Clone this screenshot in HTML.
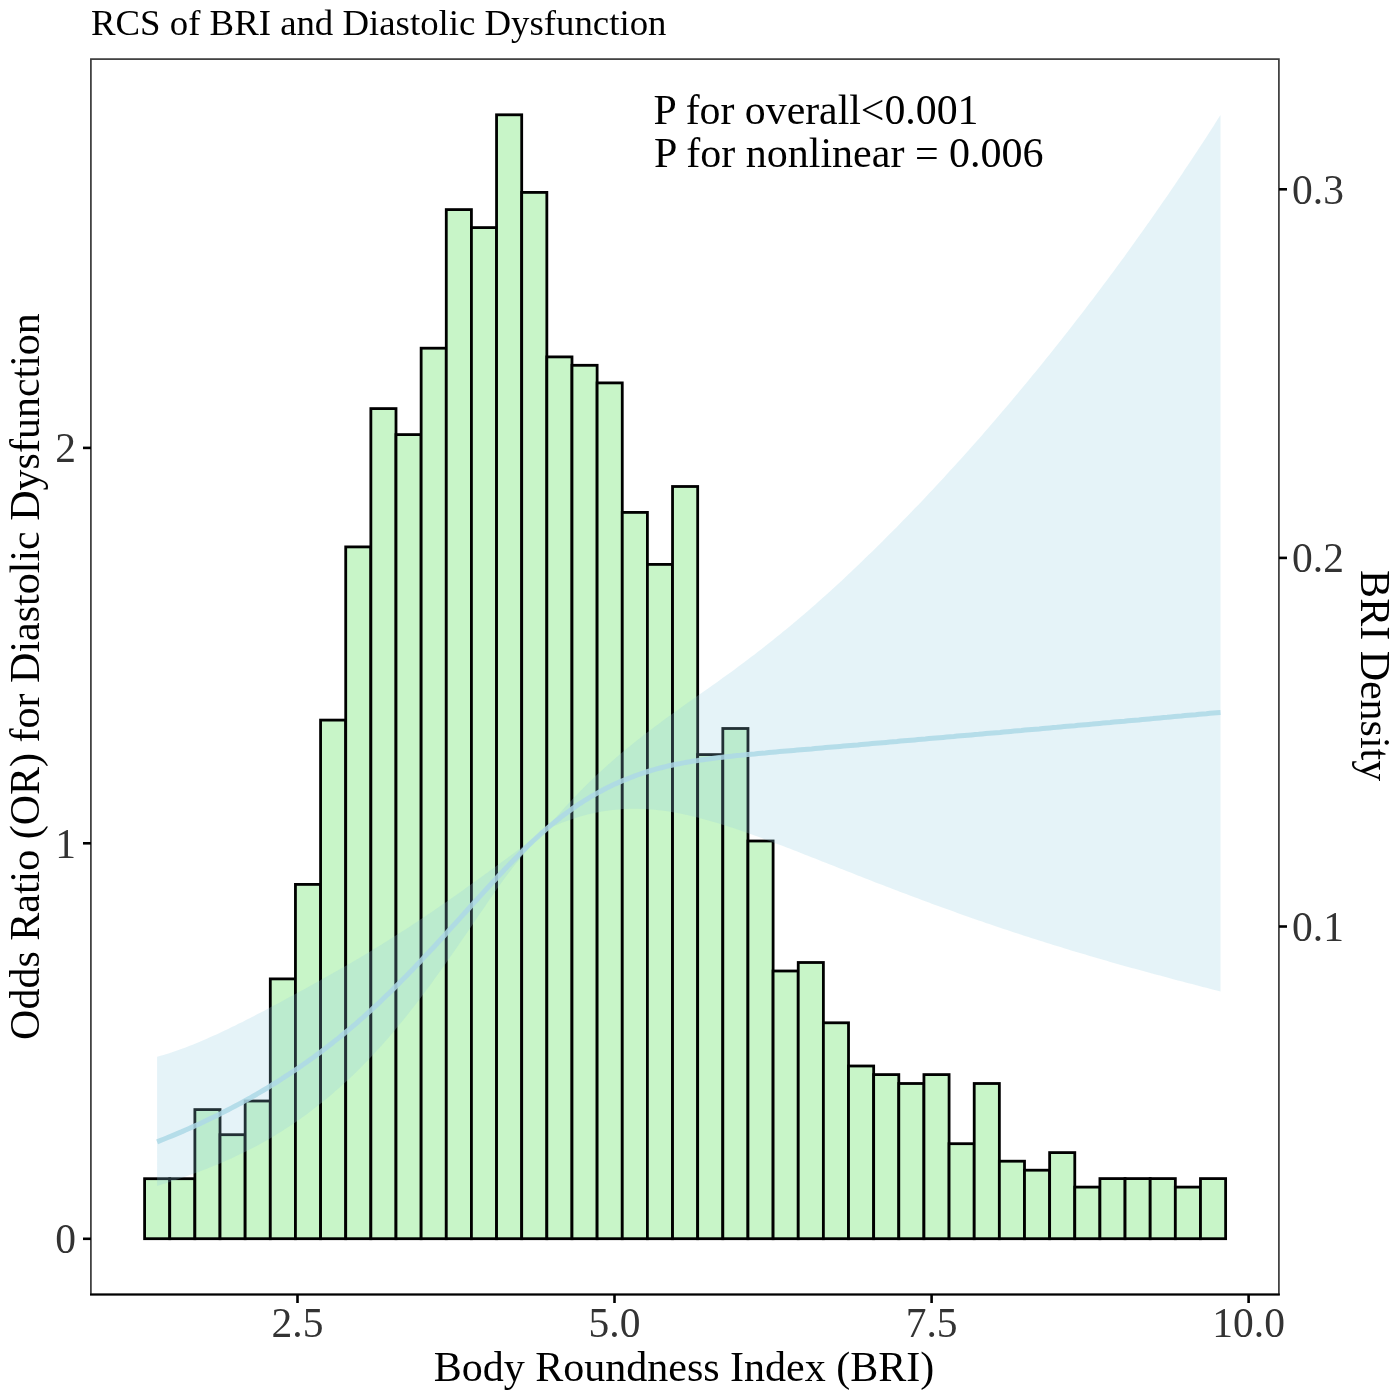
<!DOCTYPE html>
<html><head><meta charset="utf-8"><style>
html,body{margin:0;padding:0;background:#fff;}
svg{display:block;will-change:transform}
text{font-family:"Liberation Serif", serif;}
</style></head><body>
<svg width="1400" height="1400" viewBox="0 0 1400 1400">
<rect width="1400" height="1400" fill="#fff"/>
<text x="91" y="35.4" font-size="36.8" fill="#000">RCS of BRI and Diastolic Dysfunction</text>
<g fill="#c8f5c8" stroke="#000" stroke-width="2.8">
<rect x="144.60" y="1178.70" width="25.14" height="60.00"/><rect x="169.74" y="1178.70" width="25.14" height="60.00"/><rect x="194.88" y="1109.60" width="25.14" height="129.10"/><rect x="220.02" y="1134.70" width="25.14" height="104.00"/><rect x="245.16" y="1101.00" width="25.14" height="137.70"/><rect x="270.30" y="978.90" width="25.14" height="259.80"/><rect x="295.44" y="884.40" width="25.14" height="354.30"/><rect x="320.58" y="720.10" width="25.14" height="518.60"/><rect x="345.72" y="546.90" width="25.14" height="691.80"/><rect x="370.86" y="408.60" width="25.14" height="830.10"/><rect x="396.00" y="434.60" width="25.14" height="804.10"/><rect x="421.14" y="348.20" width="25.14" height="890.50"/><rect x="446.28" y="209.60" width="25.14" height="1029.10"/><rect x="471.42" y="227.60" width="25.14" height="1011.10"/><rect x="496.56" y="114.80" width="25.14" height="1123.90"/><rect x="521.70" y="192.40" width="25.14" height="1046.30"/><rect x="546.84" y="356.90" width="25.14" height="881.80"/><rect x="571.98" y="365.30" width="25.14" height="873.40"/><rect x="597.12" y="382.90" width="25.14" height="855.80"/><rect x="622.26" y="512.40" width="25.14" height="726.30"/><rect x="647.40" y="564.40" width="25.14" height="674.30"/><rect x="672.54" y="486.50" width="25.14" height="752.20"/><rect x="697.68" y="754.60" width="25.14" height="484.10"/><rect x="722.82" y="728.50" width="25.14" height="510.20"/><rect x="747.96" y="841.00" width="25.14" height="397.70"/><rect x="773.10" y="971.00" width="25.14" height="267.70"/><rect x="798.24" y="962.50" width="25.14" height="276.20"/><rect x="823.38" y="1022.80" width="25.14" height="215.90"/><rect x="848.52" y="1066.00" width="25.14" height="172.70"/><rect x="873.66" y="1074.60" width="25.14" height="164.10"/><rect x="898.80" y="1083.50" width="25.14" height="155.20"/><rect x="923.94" y="1074.60" width="25.14" height="164.10"/><rect x="949.08" y="1143.70" width="25.14" height="95.00"/><rect x="974.22" y="1083.50" width="25.14" height="155.20"/><rect x="999.36" y="1161.20" width="25.14" height="77.50"/><rect x="1024.50" y="1170.20" width="25.14" height="68.50"/><rect x="1049.64" y="1152.60" width="25.14" height="86.10"/><rect x="1074.78" y="1187.10" width="25.14" height="51.60"/><rect x="1099.92" y="1178.60" width="25.14" height="60.10"/><rect x="1125.06" y="1178.60" width="25.14" height="60.10"/><rect x="1150.20" y="1178.60" width="25.14" height="60.10"/><rect x="1175.34" y="1187.10" width="25.14" height="51.60"/><rect x="1200.48" y="1178.60" width="25.14" height="60.10"/>
</g>
<polygon points="157.1,1056.8 160.7,1055.8 164.2,1054.8 167.8,1053.7 171.3,1052.5 174.9,1051.3 178.4,1050.1 182.0,1048.8 185.6,1047.5 189.1,1046.1 192.7,1044.7 196.2,1043.3 199.8,1041.8 203.3,1040.3 206.9,1038.7 210.4,1037.1 214.0,1035.5 217.6,1033.9 221.1,1032.2 224.7,1030.6 228.2,1028.9 231.8,1027.1 235.3,1025.4 238.9,1023.6 242.5,1021.9 246.0,1020.1 249.6,1018.2 253.1,1016.4 256.7,1014.6 260.2,1012.7 263.8,1010.9 267.4,1009.0 270.9,1007.1 274.5,1005.3 278.0,1003.4 281.6,1001.5 285.1,999.6 288.7,997.6 292.2,995.7 295.8,993.8 299.4,991.8 302.9,989.9 306.5,987.9 310.0,986.0 313.6,984.0 317.1,982.0 320.7,980.1 324.3,978.1 327.8,976.1 331.4,974.1 334.9,972.1 338.5,970.0 342.0,968.0 345.6,966.0 349.2,963.9 352.7,961.8 356.3,959.8 359.8,957.7 363.4,955.5 366.9,953.4 370.5,951.3 374.0,949.1 377.6,946.9 381.2,944.7 384.7,942.5 388.3,940.3 391.8,938.1 395.4,935.8 398.9,933.6 402.5,931.3 406.1,929.0 409.6,926.7 413.2,924.3 416.7,922.0 420.3,919.6 423.8,917.2 427.4,914.8 431.0,912.4 434.5,910.0 438.1,907.6 441.6,905.1 445.2,902.7 448.7,900.2 452.3,897.7 455.8,895.2 459.4,892.7 463.0,890.2 466.5,887.6 470.1,885.1 473.6,882.5 477.2,879.9 480.7,877.4 484.3,874.8 487.9,872.2 491.4,869.6 495.0,867.0 498.5,864.4 502.1,861.8 505.6,859.2 509.2,856.5 512.8,853.9 516.3,851.3 519.9,848.7 523.4,845.9 527.0,843.2 530.5,840.5 534.1,837.8 537.6,835.3 541.2,832.8 544.8,830.4 545.0,830.2 548.3,826.2 551.9,822.0 555.4,817.9 559.0,813.9 562.5,809.9 566.1,806.0 569.7,802.2 573.2,798.5 576.8,794.8 580.3,791.1 583.9,787.5 587.4,784.0 591.0,780.5 594.6,777.1 598.1,773.8 601.7,770.5 605.2,767.3 608.8,764.1 612.3,760.9 615.9,757.8 619.4,754.8 623.0,751.8 626.6,748.8 630.1,745.9 633.7,743.0 637.2,740.2 640.8,737.4 644.3,734.6 647.9,731.9 651.5,729.2 655.0,726.5 658.6,723.9 662.1,721.2 665.7,718.6 669.2,716.0 672.8,713.5 676.4,710.9 679.9,708.4 683.5,705.8 687.0,703.3 690.6,700.8 694.1,698.3 697.7,695.8 701.2,693.3 704.8,690.8 708.4,688.3 711.9,685.7 715.5,683.2 719.0,680.7 722.6,678.1 726.1,675.5 729.7,673.0 733.3,670.4 736.8,667.7 740.4,665.1 743.9,662.4 747.5,659.8 751.0,657.1 754.6,654.4 758.2,651.6 761.7,648.9 765.3,646.1 768.8,643.3 772.4,640.4 775.9,637.6 779.5,634.7 783.0,631.8 786.6,628.9 790.2,626.0 793.7,623.0 797.3,620.0 800.8,617.0 804.4,613.9 807.9,610.9 811.5,607.8 815.1,604.7 818.6,601.5 822.2,598.3 825.7,595.2 829.3,591.9 832.8,588.7 836.4,585.4 840.0,582.2 843.5,578.9 847.1,575.5 850.6,572.2 854.2,568.8 857.7,565.4 861.3,562.0 864.8,558.6 868.4,555.1 872.0,551.7 875.5,548.2 879.1,544.7 882.6,541.2 886.2,537.6 889.7,534.1 893.3,530.5 896.9,526.9 900.4,523.3 904.0,519.6 907.5,516.0 911.1,512.3 914.6,508.6 918.2,504.9 921.8,501.2 925.3,497.4 928.9,493.6 932.4,489.9 936.0,486.0 939.5,482.2 943.1,478.4 946.6,474.5 950.2,470.6 953.8,466.7 957.3,462.8 960.9,458.9 964.4,454.9 968.0,450.9 971.5,446.9 975.1,442.9 978.7,438.9 982.2,434.9 985.8,430.8 989.3,426.7 992.9,422.6 996.4,418.5 1000.0,414.3 1003.6,410.1 1007.1,406.0 1010.7,401.8 1014.2,397.5 1017.8,393.3 1021.3,389.0 1024.9,384.7 1028.4,380.4 1032.0,376.1 1035.6,371.8 1039.1,367.4 1042.7,363.0 1046.2,358.6 1049.8,354.2 1053.3,349.7 1056.9,345.3 1060.5,340.8 1064.0,336.3 1067.6,331.8 1071.1,327.2 1074.7,322.6 1078.2,318.1 1081.8,313.4 1085.4,308.8 1088.9,304.1 1092.5,299.5 1096.0,294.8 1099.6,290.0 1103.1,285.3 1106.7,280.5 1110.2,275.7 1113.8,270.9 1117.4,266.1 1120.9,261.2 1124.5,256.4 1128.0,251.5 1131.6,246.5 1135.1,241.6 1138.7,236.6 1142.3,231.6 1145.8,226.6 1149.4,221.5 1152.9,216.4 1156.5,211.3 1160.0,206.2 1163.6,201.1 1167.2,195.9 1170.7,190.7 1174.3,185.5 1177.8,180.2 1181.4,174.9 1184.9,169.6 1188.5,164.3 1192.0,158.9 1195.6,153.5 1199.2,148.1 1202.7,142.7 1206.3,137.2 1209.8,131.7 1213.4,126.2 1216.9,120.6 1220.5,115.1 1220.5,991.6 1216.9,990.6 1213.4,989.7 1209.8,988.8 1206.3,987.8 1202.7,986.9 1199.2,986.0 1195.6,985.0 1192.0,984.1 1188.5,983.2 1184.9,982.2 1181.4,981.3 1177.8,980.4 1174.3,979.4 1170.7,978.5 1167.2,977.5 1163.6,976.6 1160.0,975.6 1156.5,974.7 1152.9,973.7 1149.4,972.7 1145.8,971.8 1142.3,970.8 1138.7,969.8 1135.1,968.8 1131.6,967.9 1128.0,966.9 1124.5,965.9 1120.9,964.9 1117.4,963.9 1113.8,962.9 1110.2,961.9 1106.7,960.8 1103.1,959.8 1099.6,958.8 1096.0,957.8 1092.5,956.7 1088.9,955.7 1085.4,954.6 1081.8,953.6 1078.2,952.5 1074.7,951.5 1071.1,950.4 1067.6,949.3 1064.0,948.2 1060.5,947.1 1056.9,946.0 1053.3,944.9 1049.8,943.8 1046.2,942.7 1042.7,941.6 1039.1,940.5 1035.6,939.3 1032.0,938.2 1028.4,937.1 1024.9,935.9 1021.3,934.8 1017.8,933.6 1014.2,932.4 1010.7,931.3 1007.1,930.1 1003.6,928.9 1000.0,927.7 996.4,926.5 992.9,925.3 989.3,924.1 985.8,922.9 982.2,921.6 978.7,920.4 975.1,919.2 971.5,917.9 968.0,916.7 964.4,915.4 960.9,914.2 957.3,912.9 953.8,911.6 950.2,910.3 946.6,909.1 943.1,907.8 939.5,906.5 936.0,905.2 932.4,903.9 928.9,902.6 925.3,901.2 921.8,899.9 918.2,898.6 914.6,897.3 911.1,895.9 907.5,894.6 904.0,893.3 900.4,891.9 896.9,890.6 893.3,889.2 889.7,887.8 886.2,886.5 882.6,885.1 879.1,883.7 875.5,882.4 872.0,881.0 868.4,879.6 864.8,878.2 861.3,876.8 857.7,875.4 854.2,874.0 850.6,872.6 847.1,871.2 843.5,869.8 840.0,868.4 836.4,867.0 832.8,865.6 829.3,864.2 825.7,862.8 822.2,861.4 818.6,860.0 815.1,858.6 811.5,857.2 807.9,855.8 804.4,854.4 800.8,853.0 797.3,851.6 793.7,850.2 790.2,848.8 786.6,847.5 783.0,846.1 779.5,844.7 775.9,843.4 772.4,842.0 768.8,840.7 765.3,839.4 761.7,838.1 758.2,836.8 754.6,835.5 751.0,834.2 747.5,833.0 743.9,831.7 740.4,830.5 736.8,829.3 733.3,828.1 729.7,827.0 726.1,825.8 722.6,824.7 719.0,823.6 715.5,822.5 711.9,821.5 708.4,820.4 704.8,819.5 701.2,818.5 697.7,817.6 694.1,816.7 690.6,815.8 687.0,815.0 683.5,814.2 679.9,813.5 676.4,812.8 672.8,812.2 669.2,811.6 665.7,811.1 662.1,810.6 658.6,810.2 655.0,809.8 651.5,809.5 647.9,809.2 644.3,809.0 640.8,808.9 637.2,808.8 633.7,808.8 630.1,808.8 626.6,808.9 623.0,809.1 619.4,809.4 615.9,809.7 612.3,810.0 608.8,810.5 605.2,811.0 601.7,811.6 598.1,812.2 594.6,813.0 591.0,813.7 587.4,814.6 583.9,815.5 580.3,816.5 576.8,817.6 573.2,818.8 569.7,820.0 566.1,821.2 562.5,822.5 559.0,823.9 555.4,825.4 551.9,827.0 548.3,828.6 545.0,830.2 544.8,830.5 541.2,834.3 537.6,838.2 534.1,842.2 530.5,846.3 527.0,850.4 523.4,854.6 519.9,858.9 516.3,863.2 512.8,867.6 509.2,872.2 505.6,876.9 502.1,881.7 498.5,886.7 495.0,891.7 491.4,896.9 487.9,902.1 484.3,907.4 480.7,912.6 477.2,917.8 473.6,923.0 470.1,928.2 466.5,933.4 463.0,938.6 459.4,943.7 455.8,948.9 452.3,954.0 448.7,959.1 445.2,964.2 441.6,969.2 438.1,974.1 434.5,979.1 431.0,984.0 427.4,988.8 423.8,993.6 420.3,998.3 416.7,1002.9 413.2,1007.5 409.6,1012.1 406.1,1016.5 402.5,1020.9 398.9,1025.3 395.4,1029.5 391.8,1033.7 388.3,1037.9 384.7,1041.9 381.2,1045.9 377.6,1049.8 374.0,1053.7 370.5,1057.5 366.9,1061.2 363.4,1064.8 359.8,1068.4 356.3,1071.9 352.7,1075.4 349.2,1078.8 345.6,1082.1 342.0,1085.3 338.5,1088.5 334.9,1091.6 331.4,1094.7 327.8,1097.7 324.3,1100.6 320.7,1103.5 317.1,1106.3 313.6,1109.1 310.0,1111.8 306.5,1114.4 302.9,1117.0 299.4,1119.5 295.8,1122.0 292.2,1124.4 288.7,1126.8 285.1,1129.1 281.6,1131.4 278.0,1133.6 274.5,1135.8 270.9,1137.9 267.4,1139.9 263.8,1142.0 260.2,1143.9 256.7,1145.9 253.1,1147.7 249.6,1149.6 246.0,1151.4 242.5,1153.1 238.9,1154.8 235.3,1156.5 231.8,1158.2 228.2,1159.8 224.7,1161.3 221.1,1162.9 217.6,1164.4 214.0,1165.8 210.4,1167.3 206.9,1168.7 203.3,1170.1 199.8,1171.4 196.2,1172.7 192.7,1174.0 189.1,1175.3 185.6,1176.6 182.0,1177.8 178.4,1179.0 174.9,1180.2 171.3,1181.4 167.8,1182.6 164.2,1183.7 160.7,1184.8 157.1,1186.0" fill="rgb(145,204,225)" fill-opacity="0.235"/>
<polyline points="157.1,1141.8 160.7,1140.4 164.2,1139.0 167.8,1137.5 171.3,1136.1 174.9,1134.6 178.4,1133.1 182.0,1131.6 185.6,1130.0 189.1,1128.5 192.7,1126.9 196.2,1125.3 199.8,1123.7 203.3,1122.0 206.9,1120.3 210.4,1118.6 214.0,1116.9 217.6,1115.2 221.1,1113.4 224.7,1111.6 228.2,1109.8 231.8,1107.9 235.3,1106.0 238.9,1104.1 242.5,1102.2 246.0,1100.2 249.6,1098.3 253.1,1096.2 256.7,1094.2 260.2,1092.1 263.8,1090.0 267.4,1087.9 270.9,1085.7 274.5,1083.5 278.0,1081.3 281.6,1079.0 285.1,1076.7 288.7,1074.4 292.2,1072.0 295.8,1069.7 299.4,1067.2 302.9,1064.8 306.5,1062.3 310.0,1059.7 313.6,1057.2 317.1,1054.6 320.7,1051.9 324.3,1049.2 327.8,1046.5 331.4,1043.7 334.9,1040.9 338.5,1038.1 342.0,1035.2 345.6,1032.3 349.2,1029.3 352.7,1026.3 356.3,1023.3 359.8,1020.2 363.4,1017.1 366.9,1013.9 370.5,1010.7 374.0,1007.4 377.6,1004.1 381.2,1000.7 384.7,997.3 388.3,993.9 391.8,990.4 395.4,986.9 398.9,983.4 402.5,979.8 406.1,976.2 409.6,972.5 413.2,968.9 416.7,965.1 420.3,961.4 423.8,957.6 427.4,953.8 431.0,950.0 434.5,946.2 438.1,942.3 441.6,938.5 445.2,934.6 448.7,930.7 452.3,926.7 455.8,922.8 459.4,918.9 463.0,914.9 466.5,911.0 470.1,907.0 473.6,903.1 477.2,899.2 480.7,895.3 484.3,891.4 487.9,887.5 491.4,883.6 495.0,879.8 498.5,875.9 502.1,872.2 505.6,868.4 509.2,864.7 512.8,861.0 516.3,857.4 519.9,853.8 523.4,850.3 527.0,846.8 530.5,843.4 534.1,840.0 537.6,836.8 541.2,833.5 544.8,830.4 545.0,830.2 548.3,827.4 551.9,824.4 555.4,821.5 559.0,818.7 562.5,815.9 566.1,813.3 569.7,810.7 573.2,808.1 576.8,805.7 580.3,803.3 583.9,801.0 587.4,798.8 591.0,796.7 594.6,794.6 598.1,792.6 601.7,790.7 605.2,788.8 608.8,787.0 612.3,785.3 615.9,783.6 619.4,782.1 623.0,780.5 626.6,779.1 630.1,777.7 633.7,776.3 637.2,775.0 640.8,773.8 644.3,772.6 647.9,771.5 651.5,770.4 655.0,769.4 658.6,768.4 662.1,767.5 665.7,766.6 669.2,765.8 672.8,765.0 676.4,764.3 679.9,763.6 683.5,762.9 687.0,762.2 690.6,761.6 694.1,761.0 697.7,760.5 701.2,759.9 704.8,759.4 708.4,759.0 711.9,758.5 715.5,758.0 719.0,757.6 722.6,757.2 726.1,756.8 729.7,756.4 733.3,756.0 736.8,755.6 740.4,755.3 743.9,754.9 747.5,754.5 751.0,754.2 754.6,753.9 758.2,753.5 761.7,753.2 765.3,752.9 768.8,752.5 772.4,752.2 775.9,751.9 779.5,751.6 783.0,751.3 786.6,751.0 790.2,750.7 793.7,750.4 797.3,750.1 800.8,749.8 804.4,749.5 807.9,749.2 811.5,748.9 815.1,748.5 818.6,748.2 822.2,747.9 825.7,747.6 829.3,747.3 832.8,747.0 836.4,746.7 840.0,746.4 843.5,746.1 847.1,745.8 850.6,745.5 854.2,745.2 857.7,744.9 861.3,744.5 864.8,744.2 868.4,743.9 872.0,743.6 875.5,743.3 879.1,743.0 882.6,742.7 886.2,742.4 889.7,742.1 893.3,741.8 896.9,741.5 900.4,741.1 904.0,740.8 907.5,740.5 911.1,740.2 914.6,739.9 918.2,739.6 921.8,739.3 925.3,739.0 928.9,738.6 932.4,738.3 936.0,738.0 939.5,737.7 943.1,737.4 946.6,737.1 950.2,736.8 953.8,736.5 957.3,736.1 960.9,735.8 964.4,735.5 968.0,735.2 971.5,734.9 975.1,734.6 978.7,734.3 982.2,733.9 985.8,733.6 989.3,733.3 992.9,733.0 996.4,732.7 1000.0,732.4 1003.6,732.0 1007.1,731.7 1010.7,731.4 1014.2,731.1 1017.8,730.8 1021.3,730.5 1024.9,730.1 1028.4,729.8 1032.0,729.5 1035.6,729.2 1039.1,728.9 1042.7,728.5 1046.2,728.2 1049.8,727.9 1053.3,727.6 1056.9,727.3 1060.5,726.9 1064.0,726.6 1067.6,726.3 1071.1,726.0 1074.7,725.7 1078.2,725.3 1081.8,725.0 1085.4,724.7 1088.9,724.4 1092.5,724.1 1096.0,723.7 1099.6,723.4 1103.1,723.1 1106.7,722.8 1110.2,722.5 1113.8,722.1 1117.4,721.8 1120.9,721.5 1124.5,721.2 1128.0,720.8 1131.6,720.5 1135.1,720.2 1138.7,719.9 1142.3,719.5 1145.8,719.2 1149.4,718.9 1152.9,718.6 1156.5,718.2 1160.0,717.9 1163.6,717.6 1167.2,717.3 1170.7,716.9 1174.3,716.6 1177.8,716.3 1181.4,716.0 1184.9,715.6 1188.5,715.3 1192.0,715.0 1195.6,714.7 1199.2,714.3 1202.7,714.0 1206.3,713.7 1209.8,713.3 1213.4,713.0 1216.9,712.7 1220.5,712.4" fill="none" stroke="#add8e6" stroke-opacity="0.85" stroke-width="5" stroke-linejoin="round"/>
<rect x="90.9" y="59.1" width="1188" height="1235.4" fill="none" stroke="#3a3a3a" stroke-width="1.7"/>
<line x1="90" y1="1294.5" x2="1279.8" y2="1294.5" stroke="#000" stroke-width="2"/>
<g stroke="#000" stroke-width="2.6">
<line x1="83" y1="1238.8" x2="91" y2="1238.8"/>
<line x1="83" y1="843.3" x2="91" y2="843.3"/>
<line x1="83" y1="447.9" x2="91" y2="447.9"/>
<line x1="1279" y1="926.5" x2="1287" y2="926.5"/>
<line x1="1279" y1="557.9" x2="1287" y2="557.9"/>
<line x1="1279" y1="189.3" x2="1287" y2="189.3"/>
<line x1="297.5" y1="1294.6" x2="297.5" y2="1303"/>
<line x1="614.5" y1="1294.6" x2="614.5" y2="1303"/>
<line x1="931.6" y1="1294.6" x2="931.6" y2="1303"/>
<line x1="1248.6" y1="1294.6" x2="1248.6" y2="1303"/>
</g>
<g font-size="41.5" fill="#333">
<text x="76" y="1253" text-anchor="end">0</text>
<text x="76" y="857.5" text-anchor="end">1</text>
<text x="76" y="462" text-anchor="end">2</text>
<text x="1292" y="940.7">0.1</text>
<text x="1292" y="572">0.2</text>
<text x="1292" y="203.5">0.3</text>
<text x="297.5" y="1337" text-anchor="middle">2.5</text>
<text x="614.5" y="1337" text-anchor="middle">5.0</text>
<text x="931.6" y="1337" text-anchor="middle">7.5</text>
<text x="1248.6" y="1337" text-anchor="middle">10.0</text>
</g>
<g font-size="42" fill="#000">
<text x="684" y="1381" text-anchor="middle">Body Roundness Index (BRI)</text>
<text transform="translate(38.6,676.5) rotate(-90)" text-anchor="middle">Odds Ratio (OR) for Diastolic Dysfunction</text>
<text transform="translate(1361.4,675.7) rotate(90)" text-anchor="middle">BRI Density</text>
<text x="653.5" y="124.4" font-size="41.8">P for overall&lt;0.001</text>
<text x="654" y="167">P for nonlinear = 0.006</text>
</g>
</svg>
</body></html>
